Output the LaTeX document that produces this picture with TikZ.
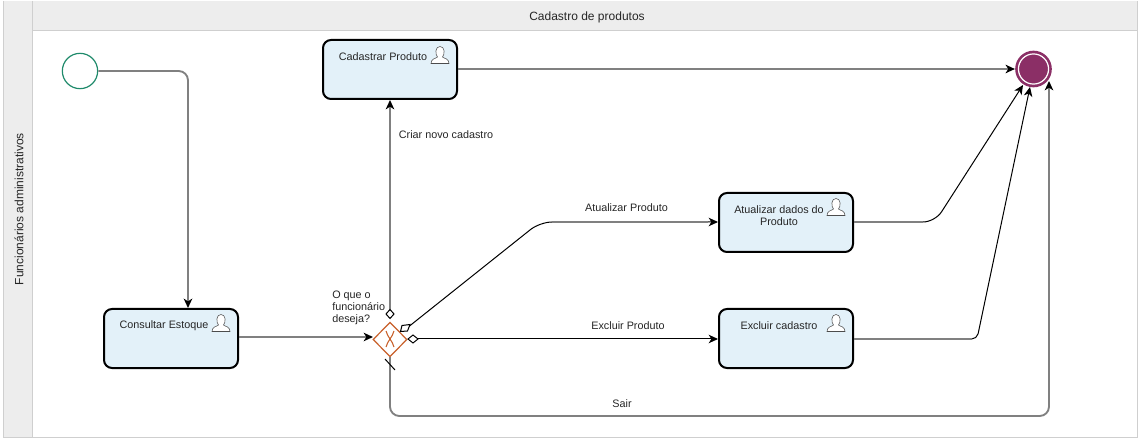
\documentclass[tikz,border=0pt]{standalone}
\usepackage{fontspec}
\setmainfont{Liberation Sans}
\usetikzlibrary{arrows.meta,shapes.geometric}
\definecolor{band}{HTML}{EDEDED}
\definecolor{bandline}{HTML}{CFCFCF}
\definecolor{taskfill}{HTML}{E3F1F9}
\definecolor{flowgray}{HTML}{808080}
\definecolor{startc}{HTML}{1F8A6B}
\definecolor{endc}{HTML}{8B2F66}
\definecolor{gatec}{HTML}{C8602A}
\tikzset{
  x=0.75pt,y=-0.75pt,
  txt/.style={inner sep=0pt,font=\fontsize{8.1pt}{9pt}\selectfont,align=center,text=black!85},
  task/.style={draw=black,line width=1.5pt,fill=taskfill,rounded corners=6pt,minimum width=100.5pt,minimum height=44.25pt,inner sep=0pt},
  tip/.style={-{Stealth[length=7pt,width=6.4pt,inset=2pt,color=black]}},
  flowg/.style={tip,draw=flowgray,line width=1.4pt,rounded corners=7pt},
  flowk/.style={tip,draw=black,line width=0.75pt,rounded corners=9pt},
  flowh/.style={draw=flowgray,line width=1.4pt},
  dia/.style={draw=black,fill=white,line width=0.75pt},
}
\newcommand{\usericon}[1]{%
  \begin{scope}[shift={(#1)},draw=black!70,line width=0.4pt]
    \draw[fill=white] (-9,8) .. controls (-9,3) and (-4,3) .. (-2.5,1.5)
      .. controls (-5,-1) and (-5,-9) .. (0,-9)
      .. controls (5,-9) and (5,-1) .. (2.5,1.5)
      .. controls (4,3) and (9,3) .. (9,8) -- cycle;
  \end{scope}}
\begin{document}
\begin{tikzpicture}
\useasboundingbox (0,0) rectangle (1140,442);
\fill[white] (0,0) rectangle (1140,442);
% pool
\fill[band] (3,1) rectangle (1137,30);
\fill[band] (3,1) rectangle (32,437);
\draw[bandline,line width=0.75pt] (32,1) -- (32,437);
\draw[bandline,line width=0.75pt] (32,30.5) -- (1137,30.5);
\draw[bandline,line width=0.75pt] (3,437) -- (1137,437) -- (1137,1);
\draw[bandline,line width=0.5pt] (3,1) -- (3,437);
\node[txt,font=\fontsize{9pt}{10.5pt}\selectfont] (title) at (587,17) {Cadastro de produtos};
\node[txt,rotate=90,font=\fontsize{9pt}{10.5pt}\selectfont] (lane) at (19,209) {Funcionários administrativos};
% events
\node[circle,draw=startc,line width=0.9pt,fill=white,minimum size=26.5pt,inner sep=0pt] (start) at (80,71) {};
\node[circle,fill=endc,minimum size=27.5pt,inner sep=0pt] (end) at (1033.5,69) {};
\draw[white,line width=0.9pt] (end.center) circle (11.3pt);
% tasks
\node[task] (cad) at (390,69.5) {};
\node[task] (con) at (171,338.5) {};
\node[task] (atu) at (786,222.5) {};
\node[task] (exc) at (786,338.5) {};
\usericon{440,55.5}
\usericon{221,323.5}
\usericon{836,207.5}
\usericon{836,323.5}
\node[txt] (tcad) at (383,56.7) {Cadastrar Produto};
\node[txt] (tcon) at (164,325.7) {Consultar Estoque};
\node[txt] (tatu) at (779,215.7) {Atualizar dados do\\Produto};
\node[txt] (texc) at (779,325.7) {Excluir cadastro};
% gateway
\node[diamond,draw=gatec,line width=0.9pt,fill=white,minimum width=25.5pt,minimum height=26pt,inner sep=0pt] (gw) at (390,339.5) {};
\draw[gatec,line width=0.8pt] (386,331) .. controls (388,338) and (392,340) .. (394,347);
\draw[gatec,line width=0.8pt] (394,331) .. controls (392,338) and (388,340) .. (386,347);
% waypoints
\coordinate (wsaiA) at (390,416);
\coordinate (wsaiB) at (1049,416);
\coordinate (watuA) at (540,222);
\coordinate (watuB) at (935,222);
\coordinate (watuC) at (923,222);
\coordinate (wexcB) at (977,339);
\coordinate (wconI) at (373,337);
\coordinate (gwTop) at (390,318);
\coordinate (gwUR) at (407,328);
\coordinate (gwR) at (418,339);
\coordinate (gwB) at (390,357);
\coordinate (endBR) at (1049,81);
\coordinate (endA) at (1023,85);
\coordinate (endE) at (1030,87);
% connectors
\draw[flowg] (start.east) -- (188,71) -- (con.north -| 188,0);
\draw[flowg] (con.east |- wconI) -- (wconI);
\draw[flowg] (gwTop) -- (cad.south);
\draw[flowg] (cad.east |- end.west) -- (end.west);
\draw[flowg] (gwB) -- (wsaiA) -- (wsaiB) -- (endBR);
\draw[flowk] (gwUR) -- (watuA) -- (atu.west |- watuA);
\draw[flowh] (552,222) -- (708,222);
\draw[flowk] (gwR) -- (exc.west |- gwR);
\draw[flowk] (atu.east |- watuB) -- (watuB) -- (endA);
\draw[flowh] (atu.east |- watuC) -- (watuC);
\draw[flowk,rounded corners=4pt] (exc.east |- wexcB) -- (wexcB) -- (endE);
\draw[flowh] (exc.east |- wexcB) -- (972,339);
% sequence-flow markers
\draw[dia] (390,309.5) -- (394,314) -- (390,318.5) -- (386,314) -- cycle;
\draw[dia] (402,325.5) -- (410,324.5) -- (407.5,331) -- (400.5,331.5) -- cycle;
\draw[dia] (408,339) -- (413,335) -- (418,339) -- (413,343) -- cycle;
\draw[black,line width=0.75pt] (385,359) -- (395,370);
% labels
\node[txt,align=left,anchor=north west] (lgw) at (332,290.5) {O que o\\funcionário\\deseja?};
\node[txt] (l1) at (446,134.7) {Criar novo cadastro};
\node[txt] (l2) at (626.5,207.7) {Atualizar Produto};
\node[txt] (l3) at (628,325.7) {Excluir Produto};
\node[txt] (l4) at (622,403.7) {Sair};
\end{tikzpicture}
\end{document}
